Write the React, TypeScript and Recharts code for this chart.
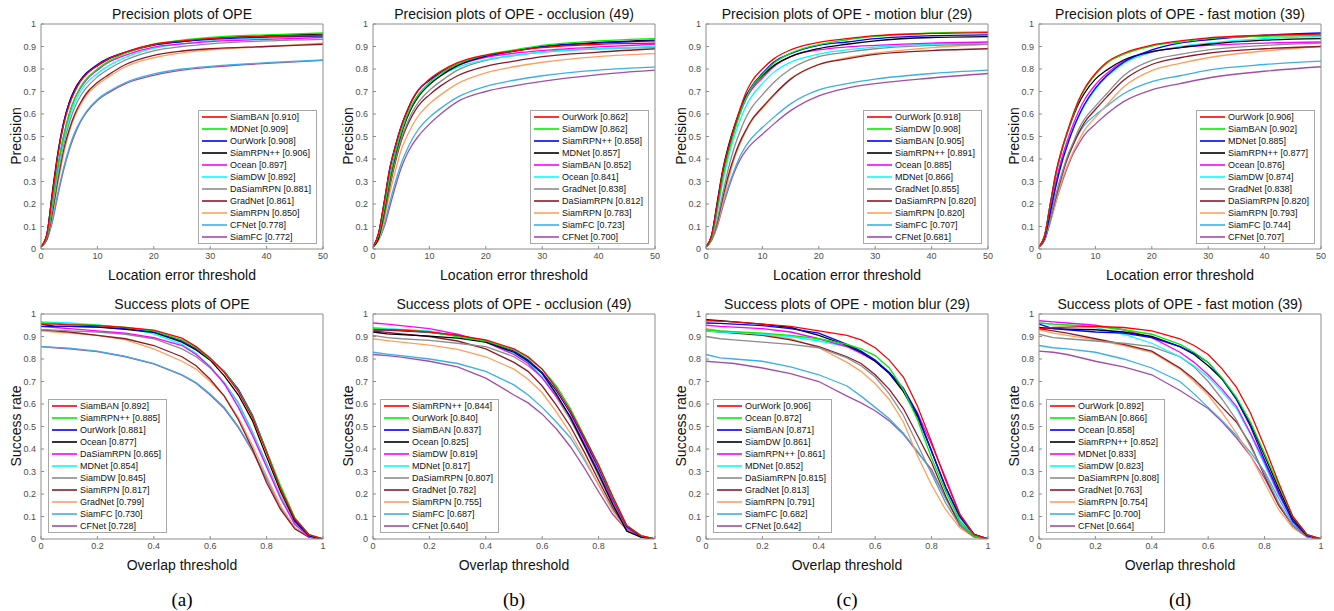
import { Line, LineChart, XAxis, YAxis } from 'recharts'

// thresholds (x) for the two plot kinds
const PREC_X = [0, 1, 2, 3, 4, 5, 6, 7, 8, 10, 12, 15, 20, 25, 30, 40, 50]
const SUCC_X = [0, 0.05, 0.1, 0.2, 0.3, 0.4, 0.5, 0.55, 0.6, 0.65, 0.7, 0.75, 0.8, 0.85, 0.9, 0.95, 1]
const PREC_TICKS = [0, 10, 20, 30, 40, 50]
const SUCC_TICKS = [0, 0.2, 0.4, 0.6, 0.8, 1]
const Y_TICKS = [0, 0.1, 0.2, 0.3, 0.4, 0.5, 0.6, 0.7, 0.8, 0.9, 1]

// (a) OPE
const PREC_A_LABELS = ['SiamBAN [0.910]', 'MDNet [0.909]', 'OurWork [0.908]', 'SiamRPN++ [0.906]', 'Ocean [0.897]', 'SiamDW [0.892]', 'DaSiamRPN [0.881]', 'GradNet [0.861]', 'SiamRPN [0.850]', 'CFNet [0.778]', 'SiamFC [0.772]']
const PREC_A = [
  [0.01, 0.06, 0.24, 0.42, 0.55, 0.64, 0.7, 0.745, 0.775, 0.815, 0.845, 0.875, 0.91, 0.925, 0.935, 0.945, 0.95],
  [0.01, 0.05, 0.2, 0.37, 0.5, 0.6, 0.67, 0.72, 0.755, 0.8, 0.835, 0.87, 0.909, 0.928, 0.94, 0.952, 0.96],
  [0.01, 0.06, 0.24, 0.42, 0.56, 0.65, 0.71, 0.75, 0.78, 0.82, 0.848, 0.875, 0.908, 0.922, 0.932, 0.942, 0.947],
  [0.01, 0.06, 0.25, 0.43, 0.56, 0.65, 0.71, 0.75, 0.78, 0.815, 0.845, 0.873, 0.906, 0.922, 0.935, 0.948, 0.955],
  [0.01, 0.05, 0.2, 0.37, 0.5, 0.6, 0.67, 0.715, 0.75, 0.795, 0.83, 0.862, 0.897, 0.912, 0.922, 0.932, 0.94],
  [0.01, 0.05, 0.19, 0.35, 0.48, 0.58, 0.65, 0.7, 0.735, 0.78, 0.815, 0.852, 0.892, 0.912, 0.925, 0.937, 0.945],
  [0.01, 0.05, 0.18, 0.33, 0.46, 0.56, 0.63, 0.68, 0.715, 0.765, 0.8, 0.84, 0.881, 0.9, 0.912, 0.925, 0.932],
  [0.01, 0.04, 0.16, 0.31, 0.44, 0.53, 0.6, 0.65, 0.69, 0.74, 0.775, 0.82, 0.861, 0.88, 0.89, 0.9, 0.91],
  [0.01, 0.04, 0.15, 0.29, 0.42, 0.52, 0.59, 0.64, 0.68, 0.73, 0.765, 0.81, 0.85, 0.872, 0.885, 0.9, 0.915],
  [0.01, 0.04, 0.13, 0.25, 0.36, 0.45, 0.52, 0.57, 0.61, 0.665, 0.7, 0.74, 0.778, 0.8, 0.812, 0.828, 0.84],
  [0.01, 0.04, 0.12, 0.24, 0.35, 0.44, 0.51, 0.565, 0.605, 0.66, 0.695, 0.735, 0.772, 0.795, 0.808, 0.825, 0.838],
]
const SUCC_A_LABELS = ['SiamBAN [0.892]', 'SiamRPN++ [0.885]', 'OurWork [0.881]', 'Ocean [0.877]', 'DaSiamRPN [0.865]', 'MDNet [0.854]', 'SiamDW [0.845]', 'SiamRPN [0.817]', 'GradNet [0.799]', 'SiamFC [0.730]', 'CFNet [0.728]']
const SUCC_A = [
  [0.955, 0.955, 0.952, 0.948, 0.94, 0.928, 0.893, 0.855, 0.805, 0.74, 0.655, 0.54, 0.385, 0.22, 0.09, 0.02, 0],
  [0.96, 0.958, 0.955, 0.95, 0.94, 0.925, 0.885, 0.85, 0.8, 0.745, 0.66, 0.545, 0.39, 0.235, 0.095, 0.02, 0],
  [0.945, 0.945, 0.945, 0.943, 0.935, 0.92, 0.88, 0.845, 0.8, 0.745, 0.665, 0.55, 0.39, 0.225, 0.085, 0.015, 0],
  [0.955, 0.945, 0.945, 0.942, 0.932, 0.918, 0.875, 0.84, 0.795, 0.725, 0.64, 0.525, 0.365, 0.21, 0.08, 0.015, 0],
  [0.945, 0.94, 0.935, 0.925, 0.915, 0.895, 0.86, 0.82, 0.765, 0.69, 0.585, 0.46, 0.32, 0.18, 0.065, 0.012, 0],
  [0.965, 0.963, 0.96, 0.952, 0.938, 0.912, 0.865, 0.825, 0.765, 0.695, 0.6, 0.47, 0.33, 0.185, 0.065, 0.012, 0],
  [0.93, 0.928, 0.925, 0.92, 0.91, 0.89, 0.845, 0.81, 0.76, 0.695, 0.605, 0.475, 0.335, 0.19, 0.07, 0.012, 0],
  [0.93, 0.925, 0.92, 0.905, 0.89, 0.86, 0.81, 0.77, 0.71, 0.635, 0.53, 0.4, 0.25, 0.13, 0.045, 0.008, 0],
  [0.925, 0.92, 0.915, 0.905, 0.885, 0.845, 0.79, 0.755, 0.7, 0.635, 0.54, 0.415, 0.28, 0.145, 0.05, 0.008, 0],
  [0.855, 0.852, 0.848, 0.835, 0.812, 0.78, 0.73, 0.695, 0.645, 0.585, 0.5, 0.395, 0.27, 0.145, 0.05, 0.008, 0],
  [0.855, 0.85, 0.845, 0.833, 0.81, 0.778, 0.728, 0.692, 0.64, 0.58, 0.495, 0.39, 0.265, 0.14, 0.048, 0.008, 0],
]

// (b) occlusion
const PREC_B_LABELS = ['OurWork [0.862]', 'SiamDW [0.862]', 'SiamRPN++ [0.858]', 'MDNet [0.857]', 'SiamBAN [0.852]', 'Ocean [0.841]', 'GradNet [0.838]', 'DaSiamRPN [0.812]', 'SiamRPN [0.783]', 'SiamFC [0.723]', 'CFNet [0.700]']
const PREC_B = [
  [0.01, 0.07, 0.21, 0.36, 0.46, 0.545, 0.61, 0.665, 0.705, 0.755, 0.79, 0.828, 0.862, 0.88, 0.895, 0.91, 0.915],
  [0.01, 0.06, 0.18, 0.32, 0.43, 0.52, 0.59, 0.645, 0.685, 0.74, 0.78, 0.822, 0.862, 0.885, 0.905, 0.925, 0.935],
  [0.01, 0.07, 0.21, 0.36, 0.46, 0.545, 0.61, 0.665, 0.705, 0.75, 0.785, 0.822, 0.858, 0.88, 0.898, 0.915, 0.925],
  [0.01, 0.05, 0.17, 0.31, 0.42, 0.51, 0.58, 0.635, 0.675, 0.73, 0.77, 0.815, 0.857, 0.88, 0.9, 0.918, 0.928],
  [0.01, 0.07, 0.21, 0.36, 0.46, 0.545, 0.61, 0.665, 0.705, 0.75, 0.78, 0.817, 0.852, 0.87, 0.882, 0.898, 0.91],
  [0.01, 0.06, 0.18, 0.33, 0.44, 0.53, 0.595, 0.645, 0.685, 0.735, 0.77, 0.808, 0.841, 0.86, 0.875, 0.89, 0.9],
  [0.01, 0.05, 0.16, 0.29, 0.4, 0.49, 0.555, 0.61, 0.65, 0.705, 0.745, 0.795, 0.838, 0.86, 0.875, 0.89, 0.895],
  [0.01, 0.05, 0.15, 0.28, 0.39, 0.48, 0.545, 0.595, 0.635, 0.685, 0.725, 0.77, 0.812, 0.835, 0.855, 0.875, 0.89],
  [0.01, 0.04, 0.13, 0.25, 0.35, 0.44, 0.5, 0.55, 0.59, 0.645, 0.685, 0.735, 0.783, 0.81, 0.83, 0.855, 0.868],
  [0.01, 0.04, 0.11, 0.21, 0.3, 0.38, 0.44, 0.49, 0.53, 0.585, 0.625, 0.675, 0.723, 0.75, 0.77, 0.795, 0.808],
  [0.01, 0.04, 0.1, 0.19, 0.28, 0.36, 0.42, 0.465, 0.5, 0.555, 0.6, 0.655, 0.7, 0.725, 0.745, 0.775, 0.795],
]
const SUCC_B_LABELS = ['SiamRPN++ [0.844]', 'OurWork [0.840]', 'SiamBAN [0.837]', 'Ocean [0.825]', 'SiamDW [0.819]', 'MDNet [0.817]', 'DaSiamRPN [0.807]', 'GradNet [0.782]', 'SiamRPN [0.755]', 'SiamFC [0.687]', 'CFNet [0.640]']
const SUCC_B = [
  [0.93, 0.93, 0.928, 0.92, 0.905, 0.885, 0.845, 0.81, 0.755, 0.67, 0.57, 0.45, 0.33, 0.19, 0.06, 0.015, 0],
  [0.935, 0.932, 0.93, 0.92, 0.9, 0.88, 0.84, 0.805, 0.755, 0.68, 0.58, 0.455, 0.325, 0.185, 0.06, 0.015, 0],
  [0.93, 0.928, 0.925, 0.918, 0.905, 0.88, 0.835, 0.795, 0.74, 0.66, 0.56, 0.44, 0.315, 0.18, 0.055, 0.012, 0],
  [0.92, 0.912, 0.908, 0.902, 0.893, 0.875, 0.83, 0.79, 0.735, 0.645, 0.54, 0.415, 0.29, 0.155, 0.035, 0.008, 0],
  [0.96, 0.955, 0.948, 0.935, 0.91, 0.875, 0.82, 0.78, 0.715, 0.635, 0.545, 0.425, 0.3, 0.17, 0.05, 0.012, 0],
  [0.94, 0.935, 0.932, 0.925, 0.9, 0.875, 0.825, 0.785, 0.72, 0.64, 0.54, 0.42, 0.29, 0.165, 0.05, 0.012, 0],
  [0.905, 0.895, 0.89, 0.883, 0.87, 0.855, 0.81, 0.77, 0.72, 0.63, 0.53, 0.41, 0.28, 0.15, 0.045, 0.01, 0],
  [0.925, 0.918, 0.912, 0.9, 0.88, 0.845, 0.785, 0.745, 0.68, 0.595, 0.5, 0.385, 0.26, 0.14, 0.045, 0.01, 0],
  [0.89, 0.882, 0.875, 0.862, 0.843, 0.81, 0.755, 0.71, 0.65, 0.565, 0.47, 0.36, 0.24, 0.125, 0.04, 0.008, 0],
  [0.83, 0.822, 0.815, 0.8, 0.78, 0.745, 0.685, 0.64, 0.585, 0.52, 0.45, 0.35, 0.24, 0.13, 0.045, 0.01, 0],
  [0.82, 0.815, 0.808, 0.79, 0.765, 0.715, 0.64, 0.605, 0.555, 0.49, 0.41, 0.315, 0.21, 0.11, 0.04, 0.008, 0],
]

// (c) motion blur
const PREC_C_LABELS = ['OurWork [0.918]', 'SiamDW [0.908]', 'SiamBAN [0.905]', 'SiamRPN++ [0.891]', 'Ocean [0.885]', 'MDNet [0.866]', 'GradNet [0.855]', 'DaSiamRPN [0.820]', 'SiamRPN [0.820]', 'SiamFC [0.707]', 'CFNet [0.681]']
const PREC_C = [
  [0.01, 0.06, 0.2, 0.35, 0.45, 0.54, 0.62, 0.69, 0.74, 0.8, 0.845, 0.885, 0.918, 0.935, 0.948, 0.958, 0.962],
  [0.01, 0.05, 0.18, 0.32, 0.43, 0.52, 0.6, 0.665, 0.715, 0.775, 0.825, 0.87, 0.908, 0.93, 0.945, 0.96, 0.965],
  [0.01, 0.06, 0.2, 0.345, 0.45, 0.535, 0.61, 0.675, 0.72, 0.78, 0.83, 0.868, 0.905, 0.92, 0.935, 0.948, 0.952],
  [0.01, 0.06, 0.21, 0.355, 0.46, 0.545, 0.615, 0.675, 0.715, 0.77, 0.815, 0.855, 0.891, 0.91, 0.925, 0.94, 0.944],
  [0.01, 0.05, 0.18, 0.33, 0.44, 0.525, 0.6, 0.66, 0.705, 0.76, 0.81, 0.855, 0.885, 0.898, 0.905, 0.915, 0.92],
  [0.01, 0.05, 0.16, 0.3, 0.41, 0.5, 0.57, 0.63, 0.675, 0.735, 0.785, 0.83, 0.866, 0.885, 0.897, 0.91, 0.915],
  [0.01, 0.04, 0.13, 0.25, 0.36, 0.45, 0.52, 0.58, 0.625, 0.685, 0.74, 0.8, 0.855, 0.875, 0.89, 0.905, 0.91],
  [0.01, 0.04, 0.12, 0.23, 0.33, 0.41, 0.475, 0.525, 0.57, 0.63, 0.685, 0.755, 0.82, 0.845, 0.865, 0.882, 0.89],
  [0.01, 0.04, 0.11, 0.21, 0.31, 0.4, 0.465, 0.52, 0.565, 0.625, 0.68, 0.755, 0.82, 0.85, 0.87, 0.895, 0.91],
  [0.01, 0.04, 0.11, 0.2, 0.28, 0.35, 0.41, 0.455, 0.49, 0.54, 0.585, 0.645, 0.707, 0.735, 0.755, 0.78, 0.795],
  [0.01, 0.04, 0.1, 0.19, 0.27, 0.34, 0.395, 0.435, 0.465, 0.51, 0.555, 0.615, 0.681, 0.715, 0.735, 0.76, 0.78],
]
const SUCC_C_LABELS = ['OurWork [0.906]', 'Ocean [0.872]', 'SiamBAN [0.871]', 'SiamDW [0.861]', 'SiamRPN++ [0.861]', 'MDNet [0.852]', 'DaSiamRPN [0.815]', 'GradNet [0.813]', 'SiamRPN [0.791]', 'SiamFC [0.682]', 'CFNet [0.642]']
const SUCC_C = [
  [0.97, 0.968, 0.965, 0.955, 0.945, 0.925, 0.905, 0.885, 0.85, 0.795, 0.72, 0.59, 0.43, 0.26, 0.11, 0.02, 0],
  [0.93, 0.925, 0.922, 0.915, 0.905, 0.89, 0.865, 0.845, 0.815, 0.76, 0.665, 0.53, 0.36, 0.21, 0.08, 0.015, 0],
  [0.96, 0.958, 0.955, 0.948, 0.935, 0.915, 0.865, 0.835, 0.795, 0.74, 0.67, 0.555, 0.39, 0.23, 0.1, 0.02, 0],
  [0.975, 0.97, 0.965, 0.955, 0.94, 0.905, 0.86, 0.83, 0.79, 0.735, 0.655, 0.545, 0.39, 0.23, 0.1, 0.02, 0],
  [0.95, 0.945, 0.942, 0.935, 0.92, 0.89, 0.855, 0.825, 0.79, 0.74, 0.665, 0.56, 0.42, 0.27, 0.11, 0.022, 0],
  [0.925, 0.92, 0.918, 0.91, 0.9, 0.88, 0.855, 0.83, 0.79, 0.74, 0.66, 0.54, 0.39, 0.22, 0.09, 0.018, 0],
  [0.9, 0.89, 0.885, 0.875, 0.865, 0.85, 0.805, 0.77, 0.72, 0.645, 0.55, 0.42, 0.29, 0.16, 0.06, 0.01, 0],
  [0.925, 0.92, 0.915, 0.905, 0.885, 0.855, 0.81, 0.78, 0.73, 0.665, 0.58, 0.46, 0.34, 0.19, 0.06, 0.01, 0],
  [0.935, 0.925, 0.92, 0.91, 0.89, 0.85, 0.785, 0.745, 0.69, 0.62, 0.52, 0.37, 0.24, 0.13, 0.05, 0.008, 0],
  [0.82, 0.805, 0.8, 0.79, 0.765, 0.73, 0.68, 0.635, 0.585, 0.535, 0.47, 0.39, 0.3, 0.18, 0.07, 0.012, 0],
  [0.79, 0.785, 0.78, 0.76, 0.735, 0.7, 0.635, 0.605, 0.57, 0.525, 0.465, 0.385, 0.31, 0.18, 0.07, 0.012, 0],
]

// (d) fast motion
const PREC_D_LABELS = ['OurWork [0.906]', 'SiamBAN [0.902]', 'MDNet [0.885]', 'SiamRPN++ [0.877]', 'Ocean [0.876]', 'SiamDW [0.874]', 'GradNet [0.838]', 'DaSiamRPN [0.820]', 'SiamRPN [0.793]', 'SiamFC [0.744]', 'CFNet [0.707]']
const PREC_D = [
  [0.01, 0.06, 0.2, 0.34, 0.44, 0.52, 0.595, 0.66, 0.71, 0.78, 0.83, 0.87, 0.906, 0.925, 0.938, 0.95, 0.955],
  [0.01, 0.06, 0.2, 0.335, 0.435, 0.515, 0.59, 0.655, 0.705, 0.775, 0.825, 0.865, 0.902, 0.92, 0.935, 0.945, 0.95],
  [0.01, 0.05, 0.16, 0.28, 0.38, 0.46, 0.53, 0.59, 0.64, 0.715, 0.77, 0.83, 0.885, 0.915, 0.93, 0.95, 0.96],
  [0.01, 0.06, 0.2, 0.335, 0.435, 0.515, 0.585, 0.645, 0.69, 0.755, 0.795, 0.84, 0.877, 0.895, 0.91, 0.928, 0.935],
  [0.01, 0.05, 0.17, 0.3, 0.4, 0.48, 0.55, 0.61, 0.66, 0.73, 0.78, 0.835, 0.876, 0.895, 0.905, 0.915, 0.92],
  [0.01, 0.05, 0.16, 0.28, 0.38, 0.46, 0.53, 0.585, 0.635, 0.71, 0.765, 0.825, 0.874, 0.9, 0.915, 0.935, 0.945],
  [0.01, 0.04, 0.13, 0.24, 0.33, 0.41, 0.47, 0.53, 0.575, 0.635, 0.69, 0.77, 0.838, 0.865, 0.885, 0.905, 0.915],
  [0.01, 0.04, 0.13, 0.23, 0.32, 0.4, 0.46, 0.515, 0.56, 0.62, 0.675, 0.75, 0.82, 0.85, 0.87, 0.89, 0.9],
  [0.01, 0.04, 0.12, 0.21, 0.3, 0.37, 0.43, 0.48, 0.525, 0.585, 0.64, 0.72, 0.793, 0.825, 0.85, 0.88, 0.9],
  [0.01, 0.05, 0.14, 0.24, 0.33, 0.4, 0.46, 0.51, 0.55, 0.595, 0.635, 0.69, 0.744, 0.77, 0.795, 0.82, 0.835],
  [0.01, 0.04, 0.12, 0.21, 0.29, 0.36, 0.42, 0.465, 0.505, 0.555, 0.6, 0.655, 0.707, 0.735, 0.76, 0.79, 0.81],
]
const SUCC_D_LABELS = ['OurWork [0.892]', 'SiamBAN [0.866]', 'Ocean [0.858]', 'SiamRPN++ [0.852]', 'MDNet [0.833]', 'SiamDW [0.823]', 'DaSiamRPN [0.808]', 'GradNet [0.763]', 'SiamRPN [0.754]', 'SiamFC [0.700]', 'CFNet [0.664]']
const SUCC_D = [
  [0.935, 0.94, 0.942, 0.945, 0.94, 0.925, 0.89, 0.86, 0.82, 0.755, 0.675, 0.56, 0.41, 0.25, 0.1, 0.02, 0],
  [0.96, 0.955, 0.952, 0.945, 0.93, 0.91, 0.865, 0.83, 0.785, 0.715, 0.63, 0.52, 0.38, 0.24, 0.1, 0.02, 0],
  [0.955, 0.935, 0.93, 0.92, 0.915, 0.895, 0.855, 0.825, 0.785, 0.71, 0.62, 0.5, 0.35, 0.21, 0.08, 0.015, 0],
  [0.94, 0.935, 0.933, 0.93, 0.92, 0.9, 0.855, 0.82, 0.77, 0.71, 0.625, 0.51, 0.37, 0.225, 0.09, 0.018, 0],
  [0.97, 0.965, 0.96, 0.95, 0.93, 0.895, 0.83, 0.785, 0.73, 0.665, 0.59, 0.47, 0.34, 0.2, 0.08, 0.015, 0],
  [0.96, 0.955, 0.95, 0.94, 0.91, 0.87, 0.81, 0.77, 0.72, 0.655, 0.58, 0.465, 0.33, 0.195, 0.08, 0.015, 0],
  [0.91, 0.895, 0.89, 0.88, 0.87, 0.855, 0.81, 0.765, 0.7, 0.62, 0.53, 0.41, 0.29, 0.16, 0.06, 0.01, 0],
  [0.935, 0.925, 0.915, 0.89, 0.865, 0.835, 0.76, 0.71, 0.65, 0.585, 0.52, 0.42, 0.28, 0.15, 0.06, 0.01, 0],
  [0.93, 0.915, 0.905, 0.885, 0.86, 0.83, 0.755, 0.7, 0.64, 0.56, 0.47, 0.37, 0.25, 0.13, 0.05, 0.008, 0],
  [0.86, 0.85, 0.845, 0.83, 0.8, 0.76, 0.7, 0.645, 0.585, 0.525, 0.46, 0.385, 0.3, 0.18, 0.07, 0.012, 0],
  [0.835, 0.83, 0.82, 0.79, 0.765, 0.73, 0.66, 0.62, 0.58, 0.52, 0.45, 0.37, 0.27, 0.15, 0.06, 0.01, 0],
]

// legend slot colours, same order in every panel
const COLORS = ['#ff0000', '#00ee00', '#0000ff', '#000000', '#ff00ff', '#00ffff', '#8c8c8c', '#8b1a26', '#ff9f5e', '#3cb0e6', '#a24ea6']
const FONT = '"Liberation Sans", Arial, Helvetica, sans-serif'
const AXIS = '#8c8c8c'
const TICK_TEXT = '#4d4d4d'

const PLOT_LEFTS = [41, 373, 706, 1039]
const CHART_W = 333
const CHART_H = 290

type PanelCfg = {
  title: string
  kind: 'prec' | 'succ'
  labels: string[]
  values: number[][]
}

const TOP: PanelCfg[] = [
  { title: 'Precision plots of OPE', kind: 'prec', labels: PREC_A_LABELS, values: PREC_A },
  { title: 'Precision plots of OPE - occlusion (49)', kind: 'prec', labels: PREC_B_LABELS, values: PREC_B },
  { title: 'Precision plots of OPE - motion blur (29)', kind: 'prec', labels: PREC_C_LABELS, values: PREC_C },
  { title: 'Precision plots of OPE - fast motion (39)', kind: 'prec', labels: PREC_D_LABELS, values: PREC_D },
]
const BOTTOM: PanelCfg[] = [
  { title: 'Success plots of OPE', kind: 'succ', labels: SUCC_A_LABELS, values: SUCC_A },
  { title: 'Success plots of OPE - occlusion (49)', kind: 'succ', labels: SUCC_B_LABELS, values: SUCC_B },
  { title: 'Success plots of OPE - motion blur (29)', kind: 'succ', labels: SUCC_C_LABELS, values: SUCC_C },
  { title: 'Success plots of OPE - fast motion (39)', kind: 'succ', labels: SUCC_D_LABELS, values: SUCC_D },
]
const CAPTIONS = ['(a)', '(b)', '(c)', '(d)']

const fmt = (v: number) => (v === 0 ? '0' : v === 1 ? '1' : String(v))

function LegendBox({ labels, side }: { labels: string[]; side: 'right' | 'left' }) {
  const pos = side === 'right' ? { right: 17, top: 110 } : { left: 47, top: 109 }
  return (
    <div
      style={{
        position: 'absolute',
        ...pos,
        background: '#fff',
        border: '1px solid #a8a8a8',
        padding: '0 5px 0 0',
        fontFamily: FONT,
        fontSize: 9,
        color: '#111',
      }}
    >
      {labels.map((l, i) => (
        <div key={l} style={{ height: 12, display: 'flex', alignItems: 'center', whiteSpace: 'nowrap' }}>
          <svg width={31} height={12} style={{ flex: 'none' }}>
            <line x1={3} x2={28} y1={6} y2={6} stroke={COLORS[i]} strokeWidth={2} strokeOpacity={0.8} />
          </svg>
          <span>{l}</span>
        </div>
      ))}
    </div>
  )
}

function Panel({ cfg, plotLeft, top, caption }: { cfg: PanelCfg; plotLeft: number; top: number; caption?: string }) {
  const isPrec = cfg.kind === 'prec'
  const xs = isPrec ? PREC_X : SUCC_X
  const rows = xs.map((x, i) => {
    const r: Record<string, number> = { x }
    cfg.values.forEach((s, k) => {
      r['s' + k] = s[i]
    })
    return r
  })
  const xDomain = isPrec ? [0, 50] : [0, 1]
  const xTicks = isPrec ? PREC_TICKS : SUCC_TICKS
  const order = cfg.values.map((_, k) => k).reverse()
  const label = { position: 'absolute' as const, fontFamily: FONT, fontSize: 14, color: '#111', textAlign: 'center' as const, whiteSpace: 'nowrap' as const }

  return (
    <div style={{ position: 'absolute', left: plotLeft - 40, top, width: CHART_W, height: caption ? 321 : CHART_H }}>
      <LineChart width={CHART_W} height={CHART_H} data={rows} margin={{ top: 23, right: 10, bottom: 21, left: 0 }}>
        <XAxis
          dataKey="x"
          type="number"
          domain={xDomain}
          ticks={xTicks}
          tickFormatter={fmt}
          height={20}
          tickSize={-3}
          tickMargin={7}
          stroke={AXIS}
          tick={{ fill: TICK_TEXT, fontSize: 9, fontFamily: FONT }}
          allowDataOverflow
        />
        <XAxis xAxisId="top" orientation="top" type="number" domain={xDomain} ticks={xTicks} height={1} tickSize={-3} stroke={AXIS} tick={false} allowDataOverflow />
        <YAxis
          type="number"
          domain={[0, 1]}
          ticks={Y_TICKS}
          tickFormatter={fmt}
          width={40}
          tickSize={-3}
          tickMargin={8}
          stroke={AXIS}
          tick={{ fill: TICK_TEXT, fontSize: 9, fontFamily: FONT }}
          allowDataOverflow
        />
        <YAxis yAxisId="right" orientation="right" type="number" domain={[0, 1]} ticks={Y_TICKS} width={1} tickSize={-3} stroke={AXIS} tick={false} allowDataOverflow />
        {order.map((k) => (
          <Line
            key={k}
            dataKey={'s' + k}
            type={isPrec ? 'monotone' : 'linear'}
            stroke={COLORS[k]}
            strokeWidth={1.3}
            dot={false}
            activeDot={false}
            isAnimationActive={false}
          />
        ))}
      </LineChart>
      <div style={{ ...label, left: 40, width: 282, top: 5, lineHeight: '18px' }}>{cfg.title}</div>
      <div style={{ ...label, left: 40, width: 282, top: 266, lineHeight: '18px' }}>
        {isPrec ? 'Location error threshold' : 'Overlap threshold'}
      </div>
      <div style={{ ...label, left: 15 - 100, width: 200, top: 127, lineHeight: '18px', transform: 'rotate(-90deg)' }}>
        {isPrec ? 'Precision' : 'Success rate'}
      </div>
      <LegendBox labels={cfg.labels} side={isPrec ? 'right' : 'left'} />
      {caption && (
        <div
          style={{
            position: 'absolute',
            left: 40,
            width: 282,
            top: 299,
            lineHeight: '22px',
            textAlign: 'center',
            fontFamily: '"Liberation Serif", "Times New Roman", serif',
            fontSize: 19,
            color: '#000',
          }}
        >
          {caption}
        </div>
      )}
    </div>
  )
}

export default function App() {
  return (
    <div style={{ position: 'absolute', left: 0, top: 0, width: 1334, height: 611, background: '#fff', overflow: 'hidden' }}>
      {TOP.map((cfg, i) => (
        <Panel key={cfg.title} cfg={cfg} plotLeft={PLOT_LEFTS[i]} top={0} />
      ))}
      {BOTTOM.map((cfg, i) => (
        <Panel key={cfg.title} cfg={cfg} plotLeft={PLOT_LEFTS[i]} top={290} caption={CAPTIONS[i]} />
      ))}
    </div>
  )
}
